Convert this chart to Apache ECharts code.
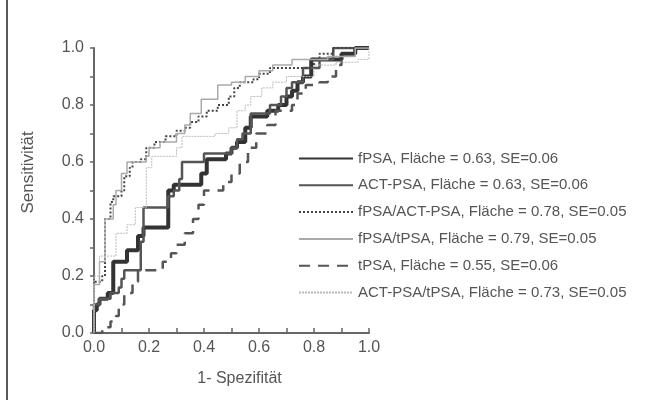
<!DOCTYPE html>
<html>
<head>
  <meta charset="utf-8">
  <title>ROC</title>
  <script src="https://cdn.jsdelivr.net/npm/echarts@6/dist/echarts.min.js"></script>
</head>
<body style="margin:0;background:#fff">
<div id="main" style="width:648px;height:400px"></div>
<script type="text/javascript">
  // ROC-Kurven: Eckpunkte [1-Spezifität, Sensitivität]
  var names = [
    'fPSA, Fläche = 0.63, SE=0.06',
    'ACT-PSA, Fläche = 0.63, SE=0.06',
    'fPSA/ACT-PSA, Fläche = 0.78, SE=0.05',
    'fPSA/tPSA, Fläche = 0.79, SE=0.05',
    'tPSA, Fläche = 0.55, SE=0.06',
    'ACT-PSA/tPSA, Fläche = 0.73, SE=0.05'
  ];
  var fpsa = [[0,0],[0,0.08],[0.01,0.1],[0.02,0.12],[0.05,0.14],[0.07,0.25],[0.12,0.29],[0.16,0.34],[0.18,0.37],
    [0.27,0.5],[0.29,0.52],[0.39,0.56],[0.41,0.61],[0.48,0.63],[0.5,0.65],[0.52,0.67],[0.55,0.72],[0.57,0.76],
    [0.63,0.78],[0.67,0.8],[0.7,0.83],[0.72,0.85],[0.74,0.88],[0.76,0.9],[0.79,0.96],[0.9,0.98],[0.95,1],[1,1]];
  var actpsa = [[0,0],[0,0.1],[0.02,0.12],[0.06,0.12],[0.06,0.14],[0.09,0.16],[0.1,0.19],[0.11,0.22],[0.17,0.32],
    [0.18,0.44],[0.27,0.48],[0.29,0.5],[0.31,0.54],[0.32,0.6],[0.4,0.63],[0.5,0.65],[0.52,0.68],[0.54,0.7],
    [0.57,0.77],[0.64,0.8],[0.68,0.83],[0.7,0.86],[0.72,0.88],[0.76,0.93],[0.82,0.96],[0.87,1],[1,1]];
  var fpsaAct = [[0,0],[0,0.18],[0.03,0.2],[0.04,0.4],[0.06,0.46],[0.07,0.48],[0.1,0.5],[0.11,0.55],[0.13,0.58],
    [0.14,0.6],[0.17,0.61],[0.19,0.65],[0.22,0.67],[0.26,0.69],[0.3,0.71],[0.33,0.72],[0.35,0.74],[0.38,0.76],
    [0.41,0.78],[0.45,0.8],[0.49,0.83],[0.51,0.86],[0.53,0.88],[0.58,0.89],[0.6,0.91],[0.64,0.93],[0.8,0.96],
    [0.82,0.98],[0.87,1],[1,1]];
  var fpsaT = [[0,0],[0,0.17],[0.02,0.25],[0.04,0.4],[0.07,0.45],[0.08,0.5],[0.1,0.56],[0.12,0.6],[0.19,0.62],
    [0.2,0.65],[0.24,0.67],[0.3,0.7],[0.33,0.73],[0.35,0.77],[0.39,0.82],[0.45,0.87],[0.5,0.88],[0.55,0.9],
    [0.6,0.92],[0.65,0.94],[0.72,0.96],[0.85,0.97],[0.95,1],[1,1]];
  var tpsa = [[0,0],[0.03,0.02],[0.06,0.04],[0.08,0.06],[0.09,0.1],[0.11,0.14],[0.14,0.18],[0.16,0.22],[0.22,0.22],
    [0.25,0.25],[0.28,0.28],[0.3,0.31],[0.33,0.35],[0.36,0.4],[0.38,0.45],[0.4,0.5],[0.45,0.5],[0.47,0.53],
    [0.5,0.56],[0.53,0.6],[0.56,0.65],[0.59,0.7],[0.63,0.73],[0.66,0.78],[0.72,0.8],[0.74,0.84],[0.77,0.87],
    [0.82,0.88],[0.85,0.9],[0.88,0.94],[0.9,0.96]];
  var actT = [[0,0],[0,0.2],[0.02,0.27],[0.06,0.27],[0.08,0.35],[0.12,0.38],[0.15,0.44],[0.19,0.58],[0.21,0.62],
    [0.3,0.65],[0.32,0.69],[0.42,0.69],[0.44,0.7],[0.49,0.72],[0.52,0.78],[0.55,0.8],[0.57,0.83],[0.61,0.86],
    [0.65,0.88],[0.7,0.9],[0.8,0.94],[0.88,0.95],[0.96,0.96],[1,1]];
  var tickLabels = ['0.0', '0.2', '0.4', '0.6', '0.8', '1.0'];

  var curves = [fpsa, actpsa, fpsaAct, fpsaT, tpsa, actT];
  var styles = [
    {color: '#333', width: 4, type: 'solid'},
    {color: '#555', width: 2.5, type: 'solid'},
    {color: '#444', width: 2, type: [2, 2]},
    {color: '#aaa', width: 1.5, type: 'solid'},
    {color: '#555', width: 2.5, type: [11, 8]},
    {color: '#bbb', width: 1, type: [2, 1]}
  ];

  function lbl(v) {
    var k = Math.round(v * 10);
    return k % 2 === 0 ? tickLabels[k / 2] : '';
  }

  var axisCommon = {
    min: 0, max: 1, interval: 0.1,
    axisLine: {lineStyle: {color: '#666', width: 2}},
    splitLine: {show: false},
    axisLabel: {color: '#555', fontSize: 16, fontFamily: 'Liberation Sans', formatter: lbl},
    nameTextStyle: {color: '#555', fontSize: 16, fontFamily: 'Liberation Sans'}
  };

  var myChart = echarts.init(document.getElementById('main'));
  var option = {
    animation: false,
    grid: {left: 94, right: 279, top: 48, bottom: 67},
    xAxis: echarts.util.merge({
      type: 'value', name: '1- Spezifität', nameLocation: 'middle', nameGap: 38,
      axisTick: {inside: true, length: 5, lineStyle: {color: '#666', width: 1.5}},
      axisLabel: {margin: 7},
      nameTextStyle: {padding: [0, 0, 0, 16]}
    }, axisCommon, false),
    yAxis: echarts.util.merge({
      type: 'value', name: 'Sensitivität', nameLocation: 'middle', nameGap: 57,
      axisTick: {length: 4, lineStyle: {color: '#666', width: 1.5}},
      axisLabel: {margin: 10},
      nameTextStyle: {fontSize: 17, padding: [0, 0, 0, 36]}
    }, axisCommon, false),
    legend: {
      orient: 'vertical', left: 298, top: 151, padding: 0,
      itemWidth: 54, itemHeight: 14, itemGap: 11.8, itemTextGap: 14,
      itemStyle: {opacity: 0},
      textStyle: {color: '#555', fontSize: 15, lineHeight: 14, fontFamily: 'Liberation Sans'},
      data: names
    },
    graphic: [{type: 'line', shape: {x1: 7, y1: 0, x2: 7, y2: 400}, style: {stroke: '#222', lineWidth: 1.5}}],
    series: curves.map(function (c, i) {
      return {
        type: 'line', name: names[i], data: c, step: 'end',
        symbol: 'none', showSymbol: false,
        lineStyle: styles[i], itemStyle: {color: styles[i].color}
      };
    })
  };
  myChart.setOption(option);
</script>
</body>
</html>
